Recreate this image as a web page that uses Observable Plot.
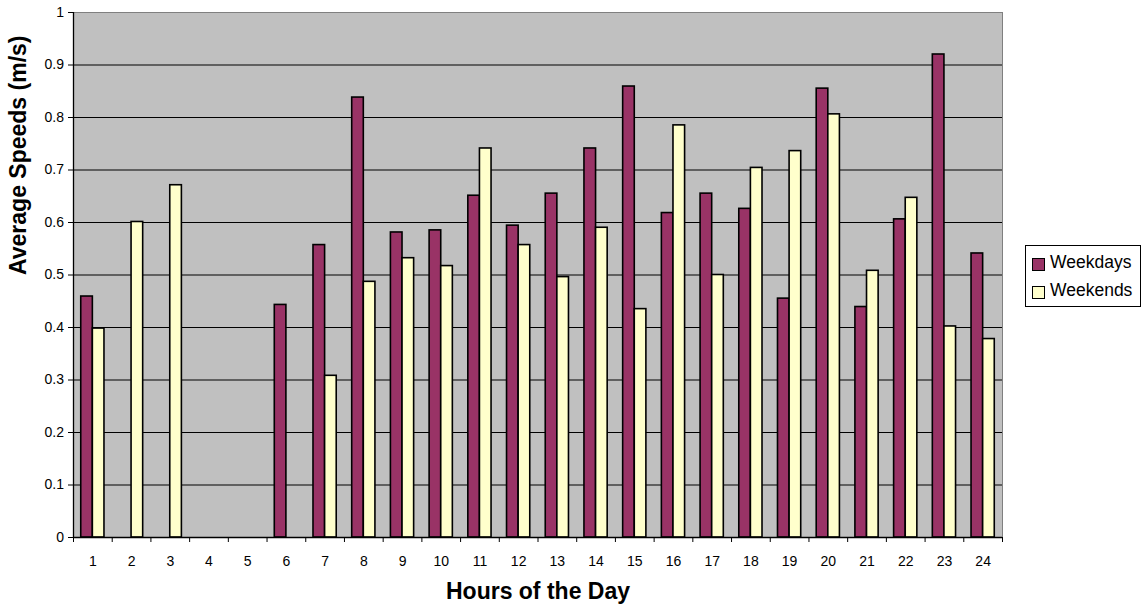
<!DOCTYPE html>
<html>
<head>
<meta charset="utf-8">
<script src="https://cdn.jsdelivr.net/npm/d3@7"></script>
<script src="https://cdn.jsdelivr.net/npm/@observablehq/plot@0.6"></script>
<style>
  html, body { margin: 0; padding: 0; background: white; }
  #wrap { position: relative; width: 1142px; height: 613px; font-family: "Liberation Sans", Arial, sans-serif; }
  #legend { position: absolute; left: 1025px; top: 245px; width: 116px; height: 62px; border: 1px solid #000; background: #fff; box-sizing: border-box; }
  .item { position: absolute; left: 6px; font-size: 17.5px; line-height: 20px; color: #000; }
  .sw { position: absolute; left: 0; top: 3px; width: 11px; height: 11px; border: 1px solid #000; }
  .item span.t { position: absolute; left: 18px; top: -3px; white-space: nowrap; }
</style>
</head>
<body>
<div id="wrap"></div>
<script>
const hours = [1,2,3,4,5,6,7,8,9,10,11,12,13,14,15,16,17,18,19,20,21,22,23,24];
const weekdays = [0.459, null, null, null, null, 0.443, 0.557, 0.838, 0.581, 0.585, 0.651, 0.594,
                  0.655, 0.741, 0.859, 0.618, 0.655, 0.626, 0.455, 0.855, 0.439, 0.606, 0.920, 0.541];
const weekends = [0.398, 0.601, 0.671, null, null, null, 0.308, 0.487, 0.532, 0.517, 0.741, 0.557,
                  0.496, 0.590, 0.435, 0.785, 0.500, 0.704, 0.736, 0.806, 0.508, 0.647, 0.402, 0.378];
const yTicks = [0, 0.1, 0.2, 0.3, 0.4, 0.5, 0.6, 0.7, 0.8, 0.9, 1];
const seriesNames = ["Weekdays", "Weekends"];
const colors = ["#993366", "#FFFFCC"];

const wd = hours.map((h, i) => ({hour: h, value: weekdays[i]})).filter(d => d.value != null);
const we = hours.map((h, i) => ({hour: h, value: weekends[i]})).filter(d => d.value != null);
const bounds = [hours[0] - 0.5, ...hours.map(h => h + 0.5)];
const gridVals = yTicks.filter(v => v > 0 && v < 1);

const chart = Plot.plot({
  width: 1142,
  height: 613,
  marginLeft: 73,
  marginRight: 140,
  marginTop: 12,
  marginBottom: 76,
  x: {domain: [0.5, 24.5]},
  y: {domain: [0, 1]},
  style: {fontFamily: "'Liberation Sans', Arial, sans-serif", fontSize: "14px", color: "#000", background: "white", overflow: "visible"},
  marks: [
    Plot.frame({fill: "#C0C0C0", stroke: "#808080"}),
    Plot.ruleY(gridVals, {stroke: "#000", strokeWidth: 1}),
    Plot.rectY(wd, {x1: d => d.hour - 0.3, x2: d => d.hour, y: "value", fill: colors[0], stroke: "#000", strokeWidth: 1.6}),
    Plot.rectY(we, {x1: d => d.hour, x2: d => d.hour + 0.3, y: "value", fill: colors[1], stroke: "#000", strokeWidth: 1.6}),
    Plot.ruleX([0.5], {stroke: "#000", strokeWidth: 1.3}),
    Plot.ruleY([0], {stroke: "#000", strokeWidth: 1.3}),
    Plot.axisY({ticks: yTicks, tickSize: 5, tickPadding: 4.5, tickFormat: d => String(d), label: null, stroke: "#000", fontSize: 14}),
    Plot.axisX({ticks: hours, tickSize: 0, tickPadding: 19, tickFormat: d => String(d), label: null, fontSize: 14}),
    Plot.axisX({ticks: bounds, tickSize: 5, tickFormat: () => "", label: null, stroke: "#000"}),
    Plot.text(["Hours of the Day"], {text: d => d, frameAnchor: "bottom", dy: 61, fontWeight: "bold", fontSize: 23, fill: "#000"}),
    Plot.text(["Average Speeds (m/s)"], {text: d => d, frameAnchor: "left", dx: -55, rotate: -90, fontWeight: "bold", fontSize: 23, fill: "#000"})
  ]
});
const wrap = document.getElementById("wrap");
wrap.appendChild(chart);

const legend = document.createElement("div");
legend.id = "legend";
seriesNames.forEach((name, i) => {
  const item = document.createElement("div");
  item.className = "item";
  item.style.top = (9 + i * 27.5) + "px";
  const sw = document.createElement("div");
  sw.className = "sw";
  sw.style.background = colors[i];
  const t = document.createElement("span");
  t.className = "t";
  t.textContent = name;
  item.appendChild(sw);
  item.appendChild(t);
  legend.appendChild(item);
});
wrap.appendChild(legend);
</script>
</body>
</html>
